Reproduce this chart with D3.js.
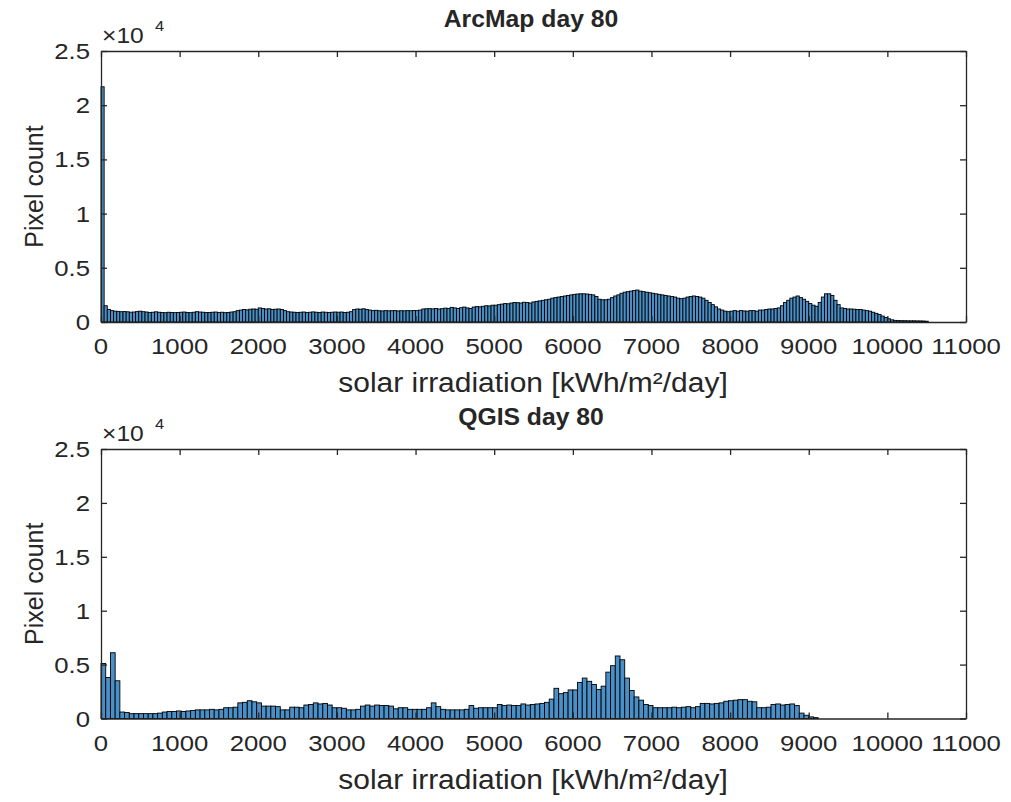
<!DOCTYPE html>
<html><head><meta charset="utf-8">
<script src="https://cdn.jsdelivr.net/npm/d3@7"></script>
<style>html,body{margin:0;padding:0;background:#fff;} svg{display:block;}</style>
</head><body>
<svg id="c" width="1011" height="802"></svg>
<script>
// ---------- data ----------
const xTicks = [0,1000,2000,3000,4000,5000,6000,7000,8000,9000,10000,11000];
const yTicks = [0,5000,10000,15000,20000,25000];
const yTickLabels = ["0","0.5","1","1.5","2","2.5"];
const titles = ["ArcMap day 80","QGIS day 80"];
const xLabel = "solar irradiation [kWh/m\u00b2/day]";
const yLabel = "Pixel count";

// ArcMap: bin width 40, starting at 0
const arcBinWidth = 40;
const arcCounts = [
 21700,1500,1150,1050,1000,980,950,960,940,900,920,960,1000,950,920,880,900,940,900,870,860,900,880,860,880,
 900,920,880,860,900,950,920,900,870,880,900,920,880,900,860,880,920,950,1050,1100,1150,1120,1180,1200,1180,
 1300,1250,1200,1220,1150,1180,1200,1150,1050,950,920,900,880,900,920,880,900,930,900,880,920,900,880,900,920,
 900,920,880,900,950,1150,1200,1180,1220,1150,1100,1050,1080,1040,1020,1050,1030,1040,1050,1020,1040,1030,1050,1040,1060,
 1050,1100,1200,1220,1230,1210,1250,1200,1230,1280,1250,1350,1300,1250,1320,1380,1300,1250,1380,1420,1400,1450,1500,1480,1550,
 1550,1600,1650,1700,1680,1750,1800,1780,1750,1820,1800,1750,1850,1900,1950,2000,2050,2100,2200,2250,2300,2350,2400,2450,2500,
 2550,2580,2600,2600,2580,2550,2500,2350,2100,2050,2050,2100,2250,2400,2500,2650,2750,2800,2850,2900,2950,2850,2800,2750,2700,
 2650,2600,2550,2500,2450,2400,2350,2300,2200,2150,2200,2300,2350,2400,2350,2300,2200,2000,1800,1600,1400,1200,1100,1000,950,
 1000,1050,1000,1050,1020,1000,1050,1050,1000,1100,1100,1150,1200,1200,1250,1300,1500,1800,2000,2200,2300,2400,2250,2100,1900,
 1700,1550,1450,1800,2300,2600,2600,2450,2000,1600,1300,1250,1200,1200,1180,1150,1150,1100,1050,1000,900,800,700,550,420,
 300,200,150,130,120,120,110,110,110,100,100,90,70
];

// QGIS: bin width 60, starting at 0
const qgisBinWidth = 60;
const qgisCounts = [
 5100,3800,6100,3500,600,550,450,450,450,450,
 450,450,500,600,650,650,700,650,700,750,
 800,800,800,850,800,850,1000,1000,1050,1450,
 1500,1650,1550,1450,1150,1150,1150,1100,800,800,
 1050,1050,1000,1250,1300,1450,1350,1400,1250,1000,
 1000,950,800,800,850,1150,1250,1150,1250,1200,
 1200,1150,900,1000,1000,850,850,850,850,1000,
 1450,1100,850,800,800,800,800,850,1200,950,
 1000,1000,1000,1000,1300,1200,1250,1200,1200,1350,
 1250,1300,1350,1400,1500,1800,2800,2300,2400,2650,
 2650,3350,3750,3450,3150,2700,3000,4300,4900,5800,
 5450,3750,2600,2000,1700,1300,1200,1000,1000,1000,
 1000,1050,1000,1050,1100,1000,1100,1400,1400,1350,
 1400,1450,1600,1650,1700,1750,1750,1600,1550,1000,
 1000,1050,1300,1350,1250,1300,1350,1200,500,300,
 150,80
];

// ---------- drawing ----------
const svg = d3.select("#c");
const axCol = "#262626";
const FONT = "'Liberation Sans', Arial, Helvetica, sans-serif";

function txt(g, str, x, y, size, anchor, sx, weight, extra) {
  return g.append("text")
    .attr("transform", `translate(${x},${y}) scale(${sx},1)` + (extra || ""))
    .attr("text-anchor", anchor)
    .attr("font-family", FONT)
    .attr("font-size", size)
    .attr("font-weight", weight || "normal")
    .attr("fill", axCol)
    .text(str);
}

const panels = [
  {top: 51, bottom: 322, counts: arcCounts, bw: arcBinWidth, title: titles[0]},
  {top: 449, bottom: 718.5, counts: qgisCounts, bw: qgisBinWidth, title: titles[1]}
];
const left = 101, right = 966;

panels.forEach(p => {
  const g = svg.append("g");
  const x = d3.scaleLinear().domain([0, 11000]).range([left, right]);
  const y = d3.scaleLinear().domain([0, 25000]).range([p.bottom, p.top]);
  const bins = p.counts.map((c, i) => ({x0: i * p.bw, x1: (i + 1) * p.bw, c}));

  g.selectAll("rect.bar").data(bins).join("rect")
    .attr("class", "bar")
    .attr("x", d => x(d.x0))
    .attr("width", d => x(d.x1) - x(d.x0))
    .attr("y", d => y(d.c))
    .attr("height", d => y(0) - y(d.c))
    .attr("fill", "#4a90c8")
    .attr("stroke", "#000")
    .attr("stroke-width", 0.9);

  // axes (box with inward ticks)
  const tl = 6;
  const bottomAx = d3.axisBottom(x).tickValues(xTicks).tickSizeInner(-tl).tickSizeOuter(0).tickFormat("");
  const topAx = d3.axisTop(x).tickValues(xTicks).tickSizeInner(-tl).tickSizeOuter(0).tickFormat("");
  const leftAx = d3.axisLeft(y).tickValues(yTicks).tickSizeInner(-tl).tickSizeOuter(0).tickFormat("");
  const rightAx = d3.axisRight(y).tickValues(yTicks).tickSizeInner(-tl).tickSizeOuter(0).tickFormat("");
  [[bottomAx, `translate(0,${p.bottom})`], [topAx, `translate(0,${p.top})`],
   [leftAx, `translate(${left},0)`], [rightAx, `translate(${right},0)`]].forEach(([ax, tr]) => {
    const a = g.append("g").attr("transform", tr).call(ax);
    a.select(".domain").attr("stroke", axCol).attr("stroke-width", 1.3);
    a.selectAll(".tick line").attr("stroke", axCol).attr("stroke-width", 1.3);
  });

  // tick labels
  xTicks.forEach(v => txt(g, String(v), x(v), p.bottom + 32, 23, "middle", 1.12));
  yTicks.forEach((v, i) => txt(g, yTickLabels[i], left - 11, y(v) + 8, 23, "end", 1.12));

  // exponent
  txt(g, "\u00d710", left + 1, p.top - 8, 22, "start", 1.12);
  txt(g, "4", left + 54, p.top - 20, 15, "start", 1.1);

  // titles & labels
  txt(g, p.title, 531, p.top - 24, 24, "middle", 1.03, "bold");
  txt(g, xLabel, 533, p.bottom + 70, 28, "middle", 1.07);
  txt(g, yLabel, 43, (p.top + p.bottom) / 2, 25, "middle", 1.0, "normal", " rotate(-90)");
});
</script>
</body></html>
